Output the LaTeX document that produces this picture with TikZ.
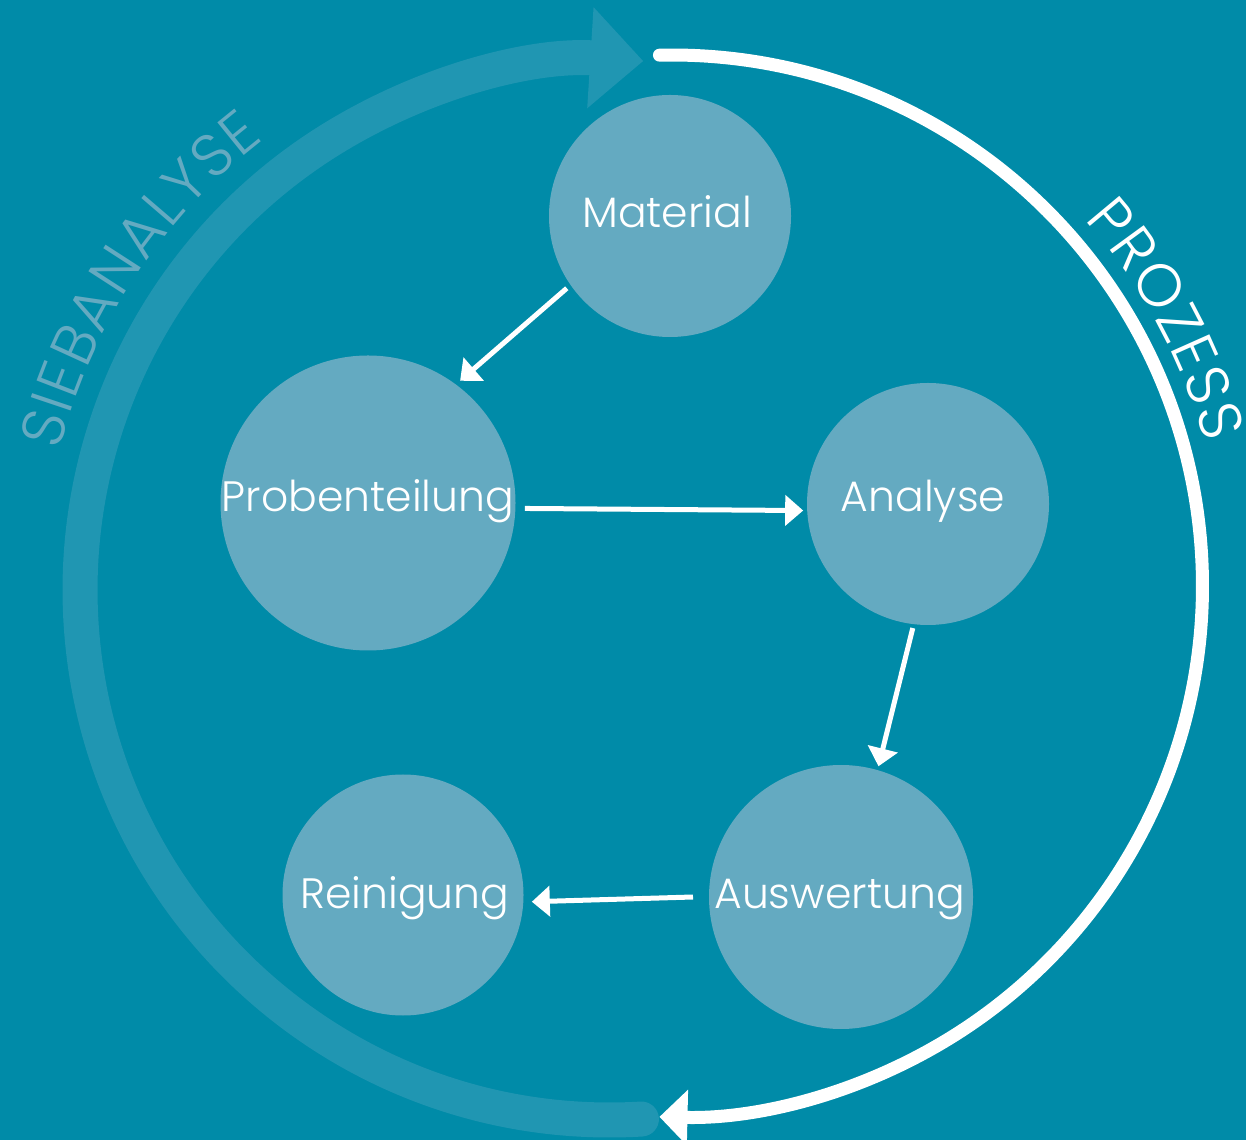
\documentclass[tikz,border=0pt]{standalone}
\usepackage{fontspec}
\newfontfamily\pop{Poppins Light}
\usetikzlibrary{arrows.meta,decorations.text,calc}
\definecolor{bgc}{HTML}{008BA8}
\definecolor{bandc}{HTML}{2096B2}
\definecolor{circc}{HTML}{64AAC1}
\begin{document}
\begin{tikzpicture}[x=1pt,y=1pt,
  proc/.style={circle,fill=circc,inner sep=0pt,outer sep=0pt},
  lbl/.style={anchor=base,text=white,inner sep=0pt,font=\pop\fontsize{42.5}{48}\selectfont},
  arr/.style={color=white,line width=5pt,-{Triangle[length=18pt,width=30pt]}},
  band/.style={color=bandc,line width=35pt,line cap=round,-{Triangle[length=53pt,width=98pt]}},
  ring/.style={color=white,line width=13pt,line cap=round,-{Triangle[length=28pt,width=54pt]}}]
\useasboundingbox (0,0) rectangle (1246,1140);
\fill[bgc] (0,0) rectangle (1246,1140);
\coordinate (lc) at (610,550);
\coordinate (wc) at (671.5,554);
% light band arrow
\draw[band] ($(lc)+(-86.6:530pt)$) arc[start angle=-86.6,end angle=-273.6,radius=530pt];
% white ring arrow
\draw[ring] ($(wc)+(91.3:531pt)$) arc[start angle=91.3,end angle=-91.3,radius=531pt];
% arc labels
\path[decorate,decoration={text along path,text align={fit to path},text color=circc,
  text={|\pop\fontsize{60}{62}\selectfont|SIEBANALYSE}}]
  ($(lc)+(165.8:568pt)$) arc[start angle=165.8,end angle=127.5,radius=568pt];
\path[decorate,decoration={text along path,text align={fit to path},text color=white,
  text={|\pop\fontsize{60}{62}\selectfont|PROZESS}}]
  ($(wc)+(41.6:552pt)$) arc[start angle=41.6,end angle=15,radius=552pt];
% process circles
\node[proc,minimum size=242pt] (mat) at (670,924) {};
\node[proc,minimum size=295pt] (prob) at (368,637) {};
\node[proc,minimum size=242pt] (ana) at (928,636) {};
\node[proc,minimum size=264pt] (aus) at (841,243) {};
\node[proc,minimum size=241pt] (rein) at (403,245) {};
\node[lbl] (matL) at (667,912) {Material};
\node[lbl] (probL) at (368,628) {Probenteilung};
\node[lbl] (anaL) at (923,628) {Analyse};
\node[lbl] (ausL) at (839.5,231) {Auswertung};
\node[lbl] (reinL) at (405,231) {Reinigung};
% connectors
\draw[arr] ($(mat.center)!126pt!(mat.215)$) -- ($(prob.center)!153pt!(prob.53)$);
\draw[arr] ($(prob.center)!157pt!(prob.-2)$) -- ($(ana.center)!125pt!(ana.183)$);
\draw[arr] ($(ana.center)!125pt!(ana.263)$) -- ($(aus.center)!136pt!(aus.74)$);
\draw[arr] ($(aus.center)!148pt!(aus.180)$) -- ($(rein.center)!129pt!(rein.-3)$);
\end{tikzpicture}
\end{document}
